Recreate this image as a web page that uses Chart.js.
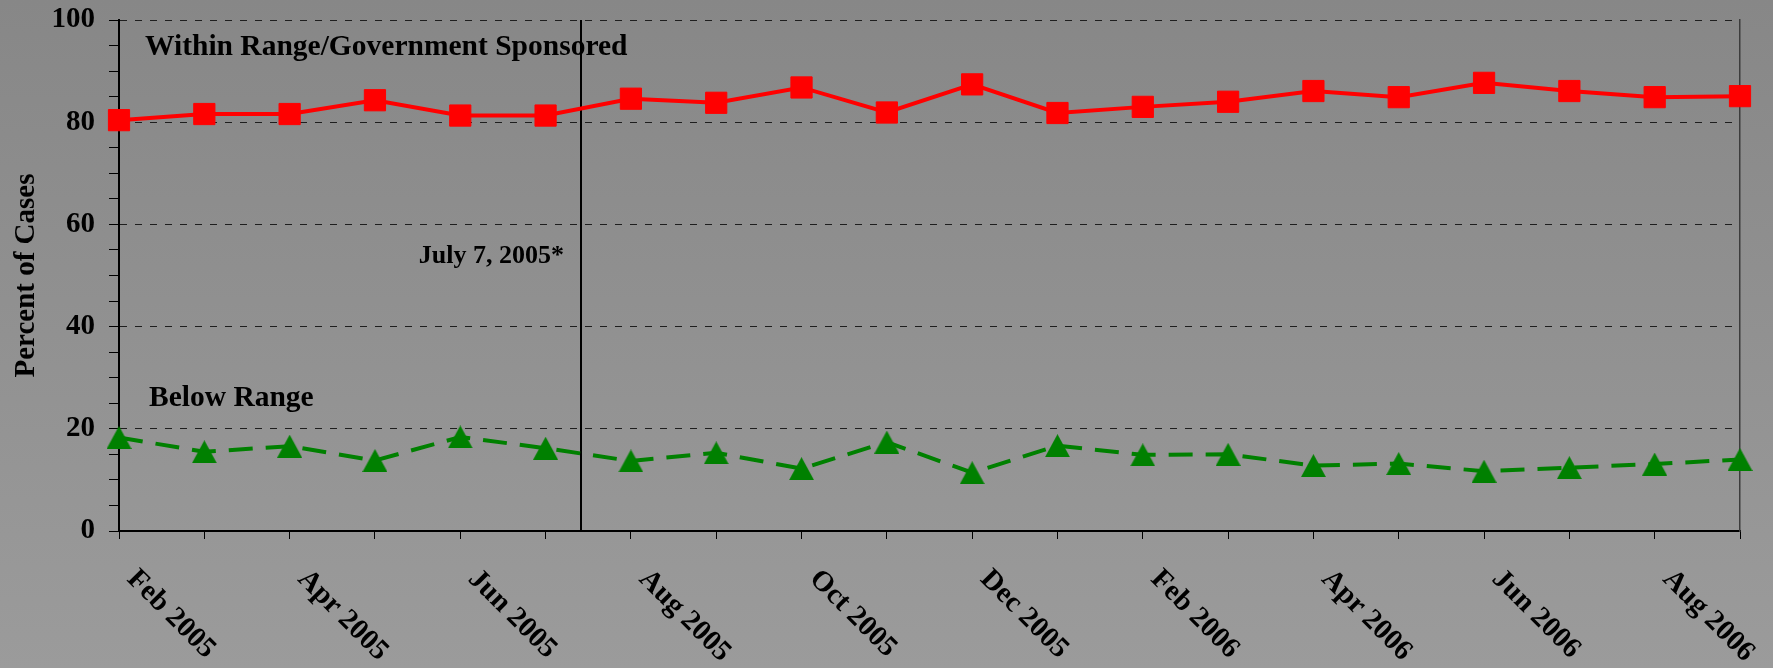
<!DOCTYPE html>
<html>
<head>
<meta charset="utf-8">
<script src="https://cdn.jsdelivr.net/npm/chart.js@4/dist/chart.umd.min.js"></script>
<style>
  html, body { margin: 0; padding: 0; background: #8f8f8f; }
  #wrap { width: 1773px; height: 668px; }
</style>
</head>
<body>
<div id="wrap"><canvas id="c" width="1773" height="668"></canvas></div>
<script>
// ---- data ----
const categories = ['Feb 2005','Mar 2005','Apr 2005','May 2005','Jun 2005','Jul 2005','Aug 2005','Sep 2005','Oct 2005','Nov 2005','Dec 2005','Jan 2006','Feb 2006','Mar 2006','Apr 2006','May 2006','Jun 2006','Jul 2006','Aug 2006','Sep 2006'];
const tickLabels = ['Feb 2005','','Apr 2005','','Jun 2005','','Aug 2005','','Oct 2005','','Dec 2005','','Feb 2006','','Apr 2006','','Jun 2006','','Aug 2006',''];
const withinRange = [80.4, 81.6, 81.6, 84.3, 81.3, 81.3, 84.6, 83.8, 86.8, 81.9, 87.4, 81.8, 83.0, 84.0, 86.1, 84.9, 87.7, 86.1, 84.9, 85.1];
const belowRange  = [18.3, 15.5, 16.6, 13.8, 18.4, 16.2, 13.7, 15.3, 12.2, 17.4, 11.4, 16.7, 14.9, 15.0, 12.8, 13.2, 11.7, 12.4, 13.1, 14.0];
const yTickValues = [0,5,10,15,20,25,30,35,40,45,50,55,60,65,70,75,80,85,90,95,100];
const yTickLabels = [0, 20, 40, 60, 80, 100];
const seriesNames = ['Within Range/Government Sponsored', 'Below Range'];
const eventIndex = 5.41;          // position of the July 7, 2005 marker on the month axis
const eventLabel = 'July 7, 2005*';
const yTitle = 'Percent of Cases';

const FONT = '"Liberation Serif", "Times New Roman", Times, serif';

function triangleCanvas(w, h, color) {
  const c = document.createElement('canvas');
  c.width = w; c.height = h;
  const g = c.getContext('2d');
  g.fillStyle = color;
  g.beginPath();
  g.moveTo(w / 2, 0);
  g.lineTo(w, h);
  g.lineTo(0, h);
  g.closePath();
  g.fill();
  return c;
}

const bgPlugin = {
  id: 'bg',
  beforeDraw(chart) {
    const { ctx, width, height } = chart;
    const g = ctx.createLinearGradient(0, 0, 0, height);
    g.addColorStop(0, '#878787');
    g.addColorStop(1, '#9b9b9b');
    ctx.save();
    ctx.fillStyle = g;
    ctx.fillRect(0, 0, width, height);
    ctx.restore();
  }
};

const annotPlugin = {
  id: 'annot',
  beforeDatasetsDraw(chart) {
    const { ctx, chartArea, scales: { x, y } } = chart;
    const lx = Math.round(x.getPixelForValue(eventIndex));
    ctx.save();
    ctx.strokeStyle = '#000';
    ctx.lineWidth = 2;
    ctx.beginPath();
    ctx.moveTo(lx, chartArea.top);
    ctx.lineTo(lx, chartArea.bottom);
    ctx.stroke();

    ctx.fillStyle = '#000';
    ctx.textBaseline = 'alphabetic';
    ctx.font = 'bold 29.5px ' + FONT;
    ctx.textAlign = 'left';
    ctx.fillText(seriesNames[0], chartArea.left + 26, y.getPixelForValue(93.2));
    ctx.fillText(seriesNames[1], chartArea.left + 30, y.getPixelForValue(24.4));
    ctx.font = 'bold 26px ' + FONT;
    ctx.textAlign = 'right';
    ctx.fillText(eventLabel, lx - 17, y.getPixelForValue(52.5));
    ctx.restore();
  },
  afterDraw(chart) {
    const { ctx, scales: { x } } = chart;
    ctx.save();
    ctx.fillStyle = '#000';
    ctx.font = 'bold 29px ' + FONT;
    ctx.textAlign = 'left';
    ctx.textBaseline = 'alphabetic';
    tickLabels.forEach((t, i) => {
      if (!t) return;
      const px = x.getPixelForValue(i);
      ctx.save();
      ctx.translate(px + 7, x.top + 49);
      ctx.rotate(Math.PI / 4);
      ctx.fillText(t, 0, 0);
      ctx.restore();
    });
    ctx.restore();
  }
};

new Chart(document.getElementById('c'), {
  type: 'line',
  data: {
    labels: categories,
    datasets: [
      {
        label: seriesNames[0],
        data: withinRange,
        borderColor: '#ff0000',
        borderWidth: 4,
        pointStyle: 'rect',
        pointRadius: 15,
        pointBackgroundColor: '#ff0000',
        pointBorderColor: '#ff0000',
        pointBorderWidth: 1,
        tension: 0,
        clip: false
      },
      {
        label: seriesNames[1],
        data: belowRange,
        borderColor: '#008000',
        borderWidth: 4,
        borderDash: [24, 13],
        pointStyle: triangleCanvas(25, 23, '#008000'),
        pointRadius: 12,
        tension: 0,
        clip: false
      }
    ]
  },
  options: {
    responsive: false,
    animation: false,
    devicePixelRatio: 1,
    layout: { padding: { top: 20, right: 33, bottom: 129, left: 0 } },
    plugins: { legend: { display: false }, tooltip: { enabled: false } },
    scales: {
      x: {
        type: 'category',
        offset: false,
        ticks: { display: false, autoSkip: false },
        grid: { display: true, drawOnChartArea: false, drawTicks: true, tickLength: 8, tickColor: '#000', tickWidth: 1 },
        border: { display: true, color: '#000', width: 2 }
      },
      y: {
        position: 'left',
        min: 0,
        max: 100,
        afterBuildTicks(s) { s.ticks = yTickValues.map(v => ({ value: v })); },
        ticks: {
          autoSkip: false,
          padding: 14,
          color: '#000',
          font: { family: FONT, size: 29, weight: 'bold' },
          callback: (v) => yTickLabels.includes(v) ? String(v) : ''
        },
        grid: {
          color: (c) => (c.tick && c.tick.value > 0 && c.tick.value % 20 === 0) ? '#1e1e1e' : 'rgba(0,0,0,0)',
          lineWidth: 1,
          tickLength: 10,
          tickColor: '#000',
          tickWidth: 1
        },
        border: { display: true, color: '#000', width: 2, dash: [7, 8] },
        title: {
          display: true,
          text: yTitle,
          color: '#000',
          font: { family: FONT, size: 29, weight: 'bold' },
          padding: { top: 9.5, bottom: 0 }
        },
        afterFit(s) { s.width = 119; s.paddingTop = 0; s.paddingBottom = 0; }
      },
      y2: {
        position: 'right',
        min: 0,
        max: 100,
        ticks: { display: false },
        grid: { display: false, drawTicks: false },
        border: { display: true, color: '#3c3c3c', width: 1.5 }
      }
    }
  },
  plugins: [bgPlugin, annotPlugin]
});
</script>
</body>
</html>
